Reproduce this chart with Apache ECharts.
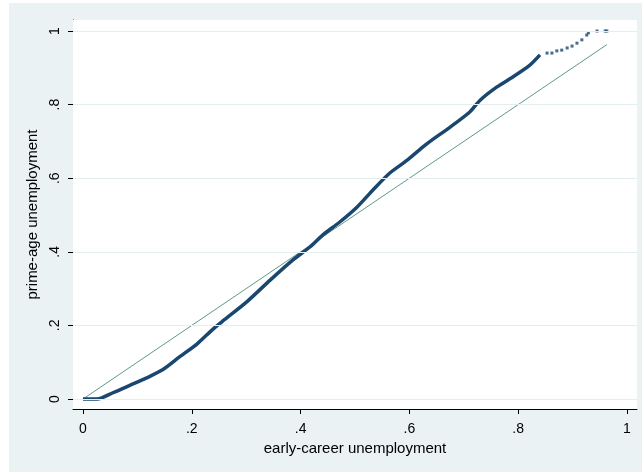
<!DOCTYPE html>
<html>
<head>
<meta charset="utf-8">
<script src="https://cdn.jsdelivr.net/npm/echarts@6/dist/echarts.min.js"></script>
<style>
  html, body { margin: 0; padding: 0; background: #fff; }
  #chart { position: absolute; left: 9px; top: 3px; width: 633px; height: 469px; }
</style>
</head>
<body>
<div id="chart"></div>
<script>
// quantile curve
const blueX = [0, 0.026, 0.055, 0.086, 0.118, 0.147, 0.178, 0.21, 0.239, 0.257, 0.301, 0.344, 0.386, 0.417, 0.441, 0.472, 0.504, 0.533, 0.564, 0.596, 0.625, 0.638, 0.675, 0.711, 0.73, 0.761, 0.79, 0.822, 0.84];
const blueY = [0, 0, 0.017, 0.037, 0.058, 0.08, 0.115, 0.15, 0.19, 0.212, 0.264, 0.323, 0.378, 0.413, 0.446, 0.481, 0.522, 0.568, 0.614, 0.649, 0.685, 0.7, 0.739, 0.78, 0.812, 0.848, 0.875, 0.908, 0.935];
// sparse upper tail
const tailX = [0.853, 0.862, 0.871, 0.88, 0.89, 0.899, 0.908, 0.917, 0.926, 0.929, 0.945, 0.96, 0.963];
const tailY = [0.94, 0.94, 0.946, 0.948, 0.954, 0.959, 0.967, 0.976, 0.989, 0.995, 1.0, 1.0, 1.0];
// 45 degree reference line
const refX = [0, 0.963];
const refY = [0, 0.963];

const tickValues = [0, 0.2, 0.4, 0.6, 0.8, 1];
const tickLabels = ['0', '.2', '.4', '.6', '.8', '1'];

// plot region padding around 0..1
const xMin = -10 / 544, xMax = 1 + 10 / 544;
const yMin = -10 / 368, yMax = 1 + 11 / 368;

const fmt = v => {
  const i = tickValues.findIndex(t => Math.abs(t - v) < 1e-6);
  return i >= 0 ? tickLabels[i] : '';
};

const zip = (xs, ys) => xs.map((x, i) => [x, ys[i]]);

const myChart = echarts.init(document.getElementById('chart'));

const option = {
  backgroundColor: '#EAF2F3',
  animation: false,
  textStyle: { fontFamily: 'Liberation Sans' },
  grid: { left: 64, top: 17, right: 5, bottom: 63, show: false },
  xAxis: {
    type: 'value',
    min: xMin, max: xMax,
    name: 'early-career unemployment',
    nameLocation: 'middle',
    nameGap: 25,
    nameTextStyle: { fontSize: 15, color: '#000' },
    axisLine: { show: true, onZero: false, lineStyle: { color: '#000', width: 1 } },
    axisTick: { show: true, length: 5, customValues: tickValues, lineStyle: { color: '#000' } },
    axisLabel: { customValues: tickValues, formatter: fmt, fontSize: 14, color: '#000', margin: 13 },
    splitLine: { show: false }
  },
  yAxis: {
    type: 'value',
    min: yMin, max: yMax,
    name: 'prime-age unemployment',
    nameLocation: 'middle',
    nameGap: 30,
    nameRotate: 90,
    nameTextStyle: { fontSize: 15, color: '#000' },
    axisLine: { show: true, onZero: false, lineStyle: { color: '#000', width: 1 } },
    axisTick: { show: true, length: 5, customValues: tickValues, lineStyle: { color: '#000' } },
    axisLabel: { customValues: tickValues, formatter: fmt, fontSize: 14, color: '#000', margin: 11, rotate: 90 },
    splitLine: { show: false }
  },
  series: [
    {
      // white plot region
      type: 'line',
      data: zip(refX, refY),
      showSymbol: false,
      silent: true,
      lineStyle: { opacity: 0 },
      markArea: {
        silent: true,
        itemStyle: { color: '#fff', opacity: 1 },
        data: [[{ xAxis: xMin, yAxis: yMin }, { xAxis: xMax, yAxis: yMax }]]
      },
      z: 0
    },
    {
      type: 'line',
      data: zip(refX, refY),
      showSymbol: false,
      lineStyle: { color: '#5E9A8A', width: 1 },
      markLine: {
        silent: true,
        symbol: 'none',
        label: { show: false },
        lineStyle: { color: '#E4EDEF', width: 1, type: 'solid' },
        data: tickValues.map(v => ({ yAxis: v }))
      },
      z: 2
    },
    {
      type: 'line',
      data: zip(blueX, blueY),
      showSymbol: false,
      smooth: 0.25,
      lineStyle: { color: '#1A476F', width: 3.5 },
      // left and bottom axis lines, drawn on top of the white region
      markLine: {
        silent: true,
        symbol: 'none',
        label: { show: false },
        lineStyle: { color: '#000', width: 1, type: 'solid', opacity: 1 },
        data: [{ xAxis: xMin + 0.5 / 544 }, { yAxis: yMin + 0.5 / 368 }]
      },
      z: 3
    },
    {
      type: 'scatter',
      data: zip(tailX, tailY),
      symbol: 'rect',
      symbolSize: 3,
      itemStyle: { color: '#1A476F' },
      z: 3
    }
  ]
};

myChart.setOption(option);
</script>
</body>
</html>
